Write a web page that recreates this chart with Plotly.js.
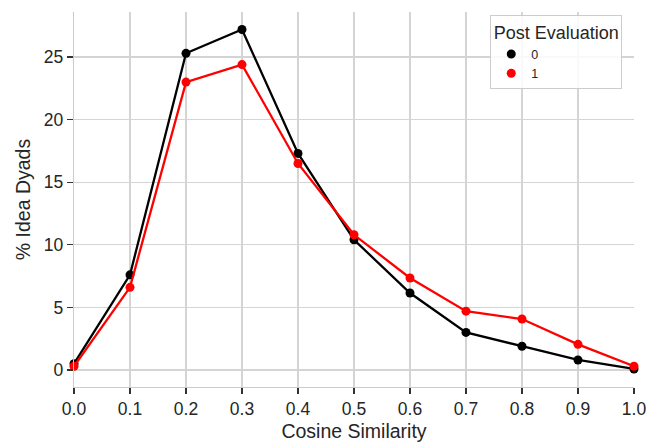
<!DOCTYPE html>
<html>
<head>
<meta charset="utf-8">
<script src="https://cdn.plot.ly/plotly-3.0.1.min.js"></script>
<style>html,body{margin:0;padding:0;background:#fff;}#chart{width:648px;height:446px;}</style>
</head>
<body>
<div id="chart"></div>
<script>
const xValues = [0.0, 0.1, 0.2, 0.3, 0.4, 0.5, 0.6, 0.7, 0.8, 0.9, 1.0];
const series0 = [0.5, 7.6, 25.3, 27.2, 17.3, 10.4, 6.15, 3.0, 1.9, 0.8, 0.08];
const series1 = [0.3, 6.6, 23.0, 24.4, 16.5, 10.8, 7.35, 4.7, 4.07, 2.05, 0.3];
const seriesNames = ["0", "1"];
const seriesColors = ["#000000", "#ff0000"];
const xTickVals = [0, 0.1, 0.2, 0.3, 0.4, 0.5, 0.6, 0.7, 0.8, 0.9, 1.0];
const xTickText = ["0.0","0.1","0.2","0.3","0.4","0.5","0.6","0.7","0.8","0.9","1.0"];
const yTickVals = [0, 5, 10, 15, 20, 25];

const allSeries = [series0, series1];
const traces = [];
allSeries.forEach((ys, i) => {
  traces.push({
    x: xValues, y: ys, type: 'scatter', mode: 'lines+markers',
    line: {color: seriesColors[i], width: 2.3},
    marker: {color: seriesColors[i], size: 9},
    showlegend: false, cliponaxis: false, hoverinfo: 'skip'
  });
});
allSeries.forEach((ys, i) => {
  traces.push({
    x: [null], y: [null], type: 'scatter', mode: 'markers',
    name: seriesNames[i],
    marker: {color: seriesColors[i], size: 9},
    showlegend: true
  });
});

const txt = '#262626';
const layout = {
  width: 648, height: 446,
  margin: {l: 74, r: 14, t: 12, b: 59},
  paper_bgcolor: '#ffffff', plot_bgcolor: '#ffffff',
  font: {family: 'Liberation Sans, Arial, sans-serif', color: txt, size: 17.5},
  showlegend: true,
  xaxis: {
    range: [0, 1], tickvals: xTickVals, ticktext: xTickText,
    showgrid: true, gridcolor: '#d4d4d4', gridwidth: 1.2,
    zeroline: false, showline: true, linecolor: '#cccccc', linewidth: 1.3,
    ticks: 'outside', ticklen: 6, tickcolor: '#333333', tickwidth: 1.2,
    tickfont: {size: 17.5, color: txt},
    automargin: false,
    title: {text: 'Cosine Similarity', font: {size: 19.5, color: txt}, standoff: 6}
  },
  yaxis: {
    range: [-1.36, 28.6], tickvals: yTickVals,
    showgrid: true, gridcolor: '#d4d4d4', gridwidth: 1.2,
    zeroline: false, showline: true, linecolor: '#cccccc', linewidth: 1.3,
    ticks: 'outside', ticklen: 6, tickcolor: '#333333', tickwidth: 1.2,
    tickfont: {size: 17.5, color: txt},
    automargin: false,
    title: {text: '% Idea Dyads', font: {size: 19.5, color: txt}, standoff: 8}
  },
  legend: {
    x: 0.979, y: 0.992, xanchor: 'right', yanchor: 'top',
    bgcolor: 'rgba(255,255,255,0.85)', bordercolor: '#cccccc', borderwidth: 1,
    font: {size: 12.5, color: txt},
    title: {text: 'Post Evaluation', font: {size: 18, color: txt}, side: 'top center'},
    itemwidth: 30, tracegroupgap: 0
  }
};

Plotly.newPlot('chart', traces, layout, {displayModeBar: false, staticPlot: true});
</script>
</body>
</html>
